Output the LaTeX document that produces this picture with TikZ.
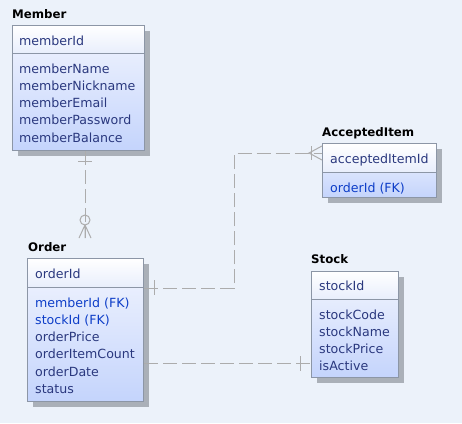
\documentclass[tikz,border=0pt]{standalone}
\usepackage{fontspec}
\setmainfont{DejaVu Sans}
\usetikzlibrary{shadows}
\definecolor{bgcol}{RGB}{236,242,250}
\definecolor{edge}{RGB}{140,150,166}
\definecolor{shd}{RGB}{170,176,184}
\definecolor{hdtop}{RGB}{255,255,255}
\definecolor{hdbot}{RGB}{232,238,252}
\definecolor{bdtop}{RGB}{242,245,254}
\definecolor{bdbot}{RGB}{196,212,252}
\definecolor{attcol}{RGB}{42,56,126}
\definecolor{fkcol}{RGB}{14,62,200}
\definecolor{relcol}{RGB}{172,172,172}

\begin{document}
\begin{tikzpicture}[x=1pt,y=-1pt,
   ent/.style={draw=edge,line width=1pt,anchor=north west,inner sep=0pt,
     top color=bdtop,bottom color=bdbot,
     drop shadow={shadow xshift=5pt,shadow yshift=-5pt,fill=shd,opacity=1}},
   hd/.style={draw=edge,line width=1pt,anchor=north west,inner sep=0pt,
     top color=hdtop,bottom color=hdbot},
   ttl/.style={anchor=base west,inner sep=0pt,font=\fontsize{11.8}{14}\selectfont\bfseries},
   att/.style={anchor=base west,inner sep=0pt,text=attcol,font=\fontsize{12.6}{15}\selectfont},
   rel/.style={relcol,line width=1pt,dash pattern=on 14pt off 5pt},
   relend/.style={relcol,line width=1pt}]
   \useasboundingbox (0,0) rectangle (462,423);
   \fill[bgcol] (0,0) rectangle (462,423);
 %
   \node[ent,minimum width=132pt,minimum height=125pt] (member)   at ( 12, 25) {};
   \node[hd, minimum width=132pt,minimum height= 28pt] (memberhd) at ( 12, 25) {};
   \node[ttl] (membert) at ( 12, 18) {Member};
   \node[att] (mid)     at ( 19, 45) {memberId};
   \foreach \a [count=\i from 0] in
     {memberName,memberNickname,memberEmail,memberPassword,memberBalance}
     \node[att] (m\i) at (19,{73+17.3*\i}) {\a};
 %
   \node[ent,minimum width=116pt,minimum height=143pt] (order)   at ( 27,258) {};
   \node[hd, minimum width=116pt,minimum height= 29pt] (orderhd) at ( 27,258) {};
   \node[ttl] (ordert) at ( 28,251) {Order};
   \node[att] (oid)    at ( 35,278) {orderId};
   \foreach \a/\c [count=\i from 0] in
     {memberId (FK)/fkcol,stockId (FK)/fkcol,orderPrice/attcol,
      orderItemCount/attcol,orderDate/attcol,status/attcol}
     \node[att,text=\c] (o\i) at (35,{307+17.3*\i}) {\a};
 %
   \node[ent,minimum width=114pt,minimum height= 54pt] (accept)   at (322,143) {};
   \node[hd, minimum width=114pt,minimum height= 29pt] (accepthd) at (322,143) {};
   \node[ttl] (acceptt) at (322,136) {AcceptedItem};
   \node[att] (aid)     at (330,163) {acceptedItemId};
   \node[att,text=fkcol] (a0) at (330,192) {orderId (FK)};
 %
   \node[ent,minimum width= 87pt,minimum height=106pt] (stock)   at (311,271) {};
   \node[hd, minimum width= 87pt,minimum height= 28pt] (stockhd) at (311,271) {};
   \node[ttl] (stockt) at (311,263) {Stock};
   \node[att] (sid)    at (319,290) {stockId};
   \foreach \a [count=\i from 0] in {stockCode,stockName,stockPrice,isActive}
     \node[att] (s\i) at (319,{319+17.3*\i}) {\a};
 %
   \coordinate (mo) at ( 85,238);
   \coordinate (os) at (  0,363);
   \draw[rel] (member.south -| mo) -- (mo);
   \draw[rel] (orderhd.south east) -- ++(90,0) |- ([yshift=4.5pt]accepthd.west);
   \draw[rel] (order.east |- os) -- (stock.west |- os);
 %
   \draw[relend] ( 78,161) -- ( 92,161);
   \draw[relend] ( 85,220) circle (5pt);
   \draw[relend] ( 79,238) -- ( 85,225) -- ( 91,238) ( 85,225) -- ( 85,238);
   \draw[relend] (154,280) -- (154,295);
   \draw[relend] (311,146) -- (311,160);
   \draw[relend] (322,146) -- (309,153) -- (322,160);
   \draw[relend] (300,356) -- (300,371);
  \end{tikzpicture}
\end{document}
